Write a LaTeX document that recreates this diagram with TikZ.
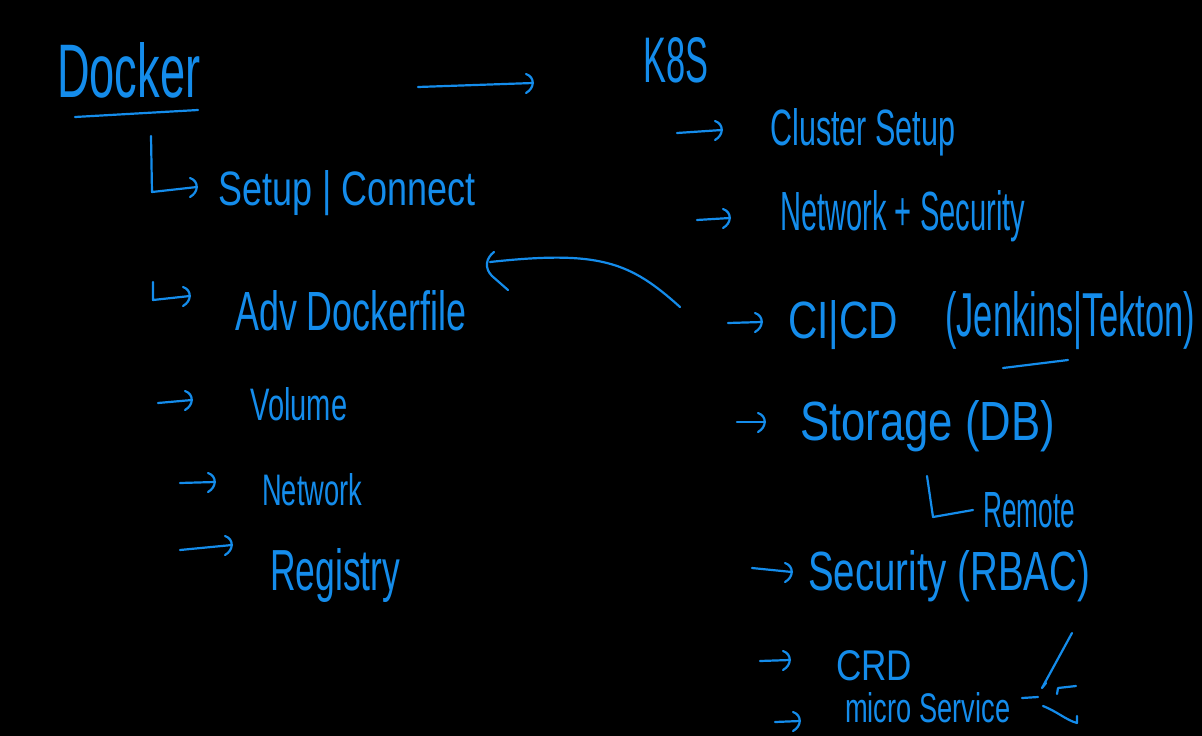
\documentclass[tikz,border=0pt]{standalone}
\usepackage{fontspec}
\setmainfont{Liberation Sans}
\usepackage{graphicx}
\definecolor{ink}{RGB}{20,140,235}
\newcommand\hw[3]{\resizebox{#1pt}{#2pt}{#3}}
\tikzset{
  lbl/.style={inner sep=0pt, anchor=base west, text=ink, font=\fontsize{30}{34}\selectfont},
  pen/.style={draw=ink, line width=2.2pt, line cap=round, line join=round},
  rtip/.pic={\draw[pen] (-7,-9) .. controls (2,-6) and (2,5) .. (-7,10);},
}
\begin{document}
\begin{tikzpicture}[x=1pt,y=-1pt]
\fill[black] (0,0) rectangle (1202,736);
\useasboundingbox (0,0) rectangle (1202,736);

% left column texts
\node[lbl] (docker) at (57,97) {\hw{143}{55}{Docker}};
\node[lbl] (setup) at (218,205) {\hw{257}{35}{Setup | Connect}};
\node[lbl] (adv) at (235,330) {\hw{231}{40}{Adv Dockerfile}};
\node[lbl] (volume) at (250,420) {\hw{97}{33}{Volume}};
\node[lbl] (network) at (262,505) {\hw{100}{32}{Network}};
\node[lbl] (registry) at (270,590) {\hw{130}{42}{Registry}};

% right column texts
\node[lbl] (k8s) at (643,82) {\hw{65}{45}{K8S}};
\node[lbl] (cluster) at (770,145) {\hw{185}{37}{Cluster Setup}};
\node[lbl] (netsec) at (780,230) {\hw{245}{40}{Network + Security}};
\node[lbl] (cicd) at (788,338) {\hw{110}{38}{CI|CD}};
\node[lbl] (jenkins) at (945,336) {\hw{250}{45}{(Jenkins|Tekton)}};
\node[lbl] (storage) at (800,440) {\hw{255}{40}{Storage (DB)}};
\node[lbl] (remote) at (983,527) {\hw{92}{35}{Remote}};
\node[lbl] (security) at (808,590) {\hw{282}{40}{Security (RBAC)}};
\node[lbl] (crd) at (836,680) {\hw{76}{30}{CRD}};
\node[lbl] (micro) at (845,722) {\hw{165}{30}{micro Service}};

% coordinates for free ends
\coordinate (du1) at (75,117); \coordinate (du2) at (198,110);
\coordinate (m1) at (418,87); \coordinate (m2) at (533,83);
\coordinate (l1a) at (151,136); \coordinate (l1b) at (152,192); \coordinate (l1c) at (197,187);
\coordinate (l2a) at (153,282); \coordinate (l2b) at (153,300); \coordinate (l2c) at (190,296);
\coordinate (va) at (158,403); \coordinate (vb) at (192,400);
\coordinate (na) at (180,483); \coordinate (nb) at (215,482);
\coordinate (ra) at (180,550); \coordinate (rb) at (232,545);
\coordinate (ca) at (677,133); \coordinate (cb) at (722,130);
\coordinate (sa) at (697,220); \coordinate (sb) at (730,218);
\coordinate (ia) at (728,323); \coordinate (ib) at (762,322);
\coordinate (ta) at (737,422); \coordinate (tb) at (765,422);
\coordinate (ya) at (752,568); \coordinate (yb) at (792,572);
\coordinate (cra) at (760,661); \coordinate (crb) at (790,660);
\coordinate (mia) at (775,722); \coordinate (mib) at (800,721);
\coordinate (ju1) at (1003,368); \coordinate (ju2) at (1068,360);
\coordinate (rl1) at (927,476); \coordinate (rl2) at (933,517); \coordinate (rl3) at (973,510);
\coordinate (cv1) at (680,307); \coordinate (cv2) at (490,262);
\coordinate (ms1) at (1022,698); \coordinate (ms2) at (1038,697);
\coordinate (mt1) at (1072,633); \coordinate (mt2) at (1042,688);

% underlines
\draw[pen] (du1) -- (du2);
\draw[pen] (ju1) -- (ju2);

% arrows (line + hand-drawn tip)
\draw[pen] (m1) -- (m2); \pic at (m2) {rtip};
\draw[pen] (l1a) -- (l1b) -- (l1c); \pic at (l1c) {rtip};
\draw[pen] (l2a) -- (l2b) -- (l2c); \pic at (l2c) {rtip};
\draw[pen] (va) -- (vb); \pic at (vb) {rtip};
\draw[pen] (na) -- (nb); \pic at (nb) {rtip};
\draw[pen] (ra) -- (rb); \pic at (rb) {rtip};
\draw[pen] (ca) -- (cb); \pic at (cb) {rtip};
\draw[pen] (sa) -- (sb); \pic at (sb) {rtip};
\draw[pen] (ia) -- (ib); \pic at (ib) {rtip};
\draw[pen] (ta) -- (tb); \pic at (tb) {rtip};
\draw[pen] (ya) -- (yb); \pic at (yb) {rtip};
\draw[pen] (cra) -- (crb); \pic at (crb) {rtip};
\draw[pen] (mia) -- (mib); \pic at (mib) {rtip};
\draw[pen] (rl1) -- (rl2) -- (rl3);
\draw[pen] (cv1) .. controls (630,262) and (600,250) .. (cv2);
\draw[pen] (494,252) .. controls (486,258) and (484,268) .. (492,276) -- (508,290);

% scribble near micro Service
\draw[pen] (ms1) -- (ms2);
\draw[pen] (mt1) -- (mt2) -- (1046,683);
\draw[pen] (1076,686) -- (1058,688) -- (1057,694);
\draw[pen] (1043,706) .. controls (1058,712) and (1066,720) .. (1077,723) -- (1077,716);
\end{tikzpicture}
\end{document}
